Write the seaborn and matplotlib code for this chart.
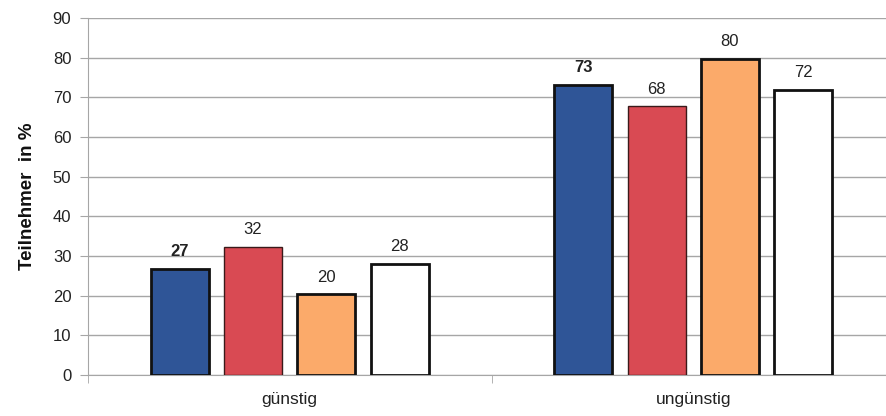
import pandas as pd
import numpy as np
import matplotlib.pyplot as plt
import seaborn as sns

# Data
kategorien = ['günstig', 'ungünstig']
gruppen = ['Gruppe 1', 'Gruppe 2', 'Gruppe 3', 'Gruppe 4']
werte_guenstig = [26.8, 32.3, 20.3, 28.1]
werte_unguenstig = [73.2, 67.7, 79.7, 71.9]
farben = ['#2f5597', '#d94a53', '#fbaa6a', '#ffffff']
kanten = [2.0, 1.0, 2.0, 2.0]

df = pd.DataFrame({
    'Lage': [kategorien[0]] * 4 + [kategorien[1]] * 4,
    'Gruppe': gruppen * 2,
    'Wert': werte_guenstig + werte_unguenstig,
})

sns.set_style('white')
plt.rcParams['font.family'] = ['Liberation Sans', 'DejaVu Sans']

fig = plt.figure(figsize=(8.86, 4.16), dpi=100)
ax = fig.add_axes([88 / 886, 1 - 375 / 416, 807 / 886, 357 / 416])

sns.barplot(data=df, x='Lage', y='Wert', hue='Gruppe', order=kategorien,
            hue_order=gruppen, palette=farben, saturation=1, width=0.727, gap=0.21,
            edgecolor='black', linewidth=2, ax=ax, zorder=3, legend=False)

for i, cont in enumerate(ax.containers):
    for bar in cont:
        bar.set_linewidth(kanten[i])
        bar.set_edgecolor('#111111' if i != 1 else '#3a1a1a')
    ax.bar_label(cont, labels=[f'{v:.0f}' for v in cont.datavalues], padding=7,
                 fontsize=12, color='#222222',
                 fontweight='bold' if i == 0 else 'normal')

ax.set_ylim(0, 90)
ax.set_yticks(np.arange(0, 91, 10))
ax.set_xlim(-0.5, 1.5)
ax.yaxis.grid(True, color='#a6a6a6', linewidth=1, zorder=0)
ax.set_axisbelow(True)

for s in ['top', 'right']:
    ax.spines[s].set_visible(False)
ax.spines['left'].set_color('#a6a6a6')
ax.spines['bottom'].set_color('#a6a6a6')

ax.tick_params(axis='y', length=6, color='#a6a6a6', labelsize=12,
               labelcolor='#222222', pad=6, left=True)
ax.set_xticks([0, 1])
ax.set_xticklabels(kategorien, fontsize=12.5, color='#222222')
ax.tick_params(axis='x', length=0, pad=12)
ax.set_xticks([-0.5, 0.5], minor=True)
ax.tick_params(axis='x', which='minor', length=6, color='#a6a6a6', bottom=True)

ax.set_xlabel('')
ax.set_ylabel('Teilnehmer  in %', fontsize=13.5, fontweight='bold', color='#111111',
              labelpad=12)

fig.savefig('out.png', dpi=100)
